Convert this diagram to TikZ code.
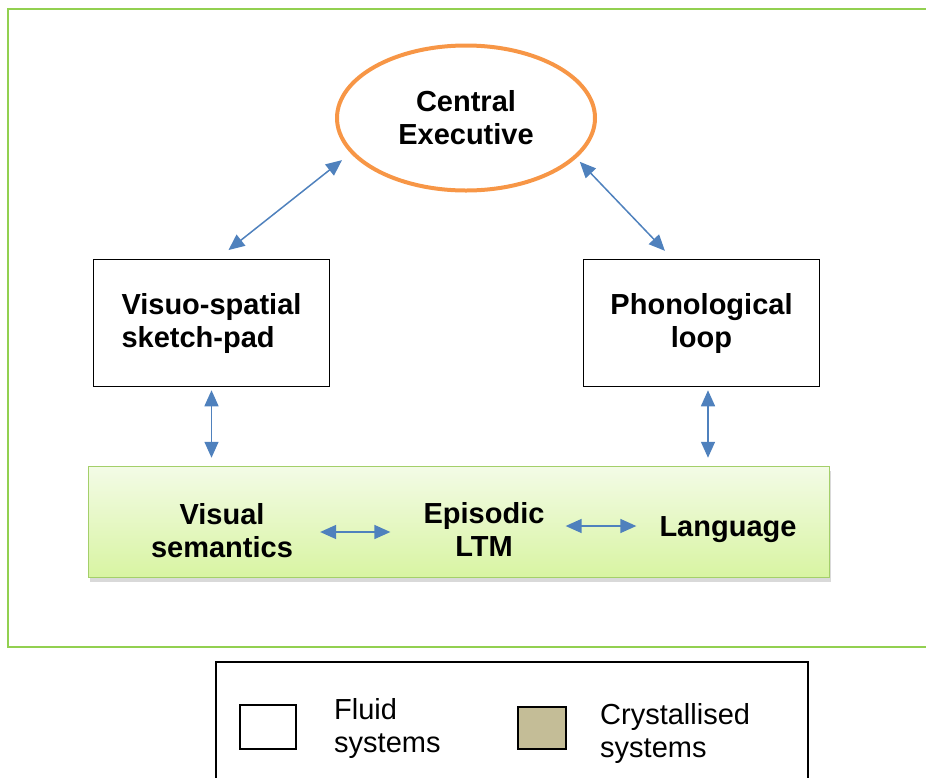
\documentclass[tikz,border=0pt]{standalone}
\usepackage{fontspec}
\setmainfont{Liberation Sans}
\usetikzlibrary{arrows.meta,shapes.geometric,shadows}

\definecolor{framegreen}{HTML}{92D050}
\definecolor{execorange}{HTML}{F79646}
\definecolor{linkblue}{HTML}{4F81BD}
\definecolor{ltmtop}{HTML}{F3FBE6}
\definecolor{ltmbottom}{HTML}{D8F4A2}
\definecolor{ltmedge}{HTML}{A4CF6A}
\definecolor{crystal}{HTML}{C4BD97}

\newcommand{\diagfont}{\fontsize{29pt}{33pt}\selectfont}

\tikzset{
  store/.style = {draw, line width=1.5pt, minimum width=236pt, minimum height=127pt, font=\diagfont\bfseries},
  link/.style = {linkblue, line width=1.5pt, {Triangle[length=16pt,width=14pt]}-{Triangle[length=16pt,width=14pt]}},
  ltmtext/.style = {align=center, inner sep=0pt, font=\diagfont\bfseries},
  keytext/.style = {anchor=west, align=left, inner sep=0pt, font=\diagfont}
}

\begin{document}
\begin{tikzpicture}[x=1pt, y=-1pt]
    \useasboundingbox (0,0) rectangle (926,777);
    \clip (0,0) rectangle (926,777);
    \draw [framegreen, line width=2.5pt] (8,9) rectangle (960,647);

    \node (ce) [ellipse, draw=execorange, line width=4pt, minimum width=258pt, minimum height=145pt, align=center, font=\diagfont\bfseries] at (466,118) {Central\\Executive};
    \node (vs) [store, align=left] at (211.5,323) {Visuo-spatial\\sketch-pad};
    \node (pl) [store, align=center] at (701.5,323) {Phonological\\loop};

    \node (ltm) [draw=ltmedge, line width=1.5pt, top color=ltmtop, bottom color=ltmbottom, drop shadow={shadow xshift=1pt, shadow yshift=-4pt, opacity=0.3}, minimum width=741pt, minimum height=111pt] at (459,522) {};
    \node (vsem) [ltmtext] at (222,531) {Visual\\semantics};
    \node (epi) [ltmtext] at (484,529) {Episodic\\LTM};
    \node (lang) [ltmtext] at (728,530) {Language};

    \draw [link, shorten <=11pt, shorten >=14pt] (ce.197) -- ([xshift=6pt]vs.north);
    \draw [link, shorten <=5pt, shorten >=11pt] (ce.340) -- ([xshift=-29pt]pl.north);
    \draw [link, shorten <=3pt, shorten >=8pt] (vs.south) -- (vs.south |- ltm.north);
    \draw [link, shorten <=3pt, shorten >=8pt] ([xshift=6.5pt]pl.south) -- ([xshift=6.5pt]pl.south |- ltm.north);
    \draw [link, shorten <=27pt, shorten >=33pt] ([yshift=-1pt]vsem.east) -- ([yshift=-1pt]vsem.east -| epi.west);
    \draw [link, shorten <=21pt, shorten >=23pt] ([yshift=3pt]epi.east) -- ([yshift=3pt]epi.east -| lang.west);

    % legend
    \node (key) [draw, line width=1.5pt, minimum width=592pt, minimum height=140pt, anchor=north west] at (215,661) {};
    \node (fluidkey) [draw, line width=1.5pt, minimum width=56pt, minimum height=44pt] at (268,727) {};
    \node (fluidtext) [keytext] at (334,728) {Fluid\\systems};
    \node (crystkey) [draw, line width=1.5pt, fill=crystal, minimum width=48pt, minimum height=42pt] at (542,728) {};
    \node (crysttext) [keytext] at (600,733) {Crystallised\\systems};
\end{tikzpicture}
\end{document}
